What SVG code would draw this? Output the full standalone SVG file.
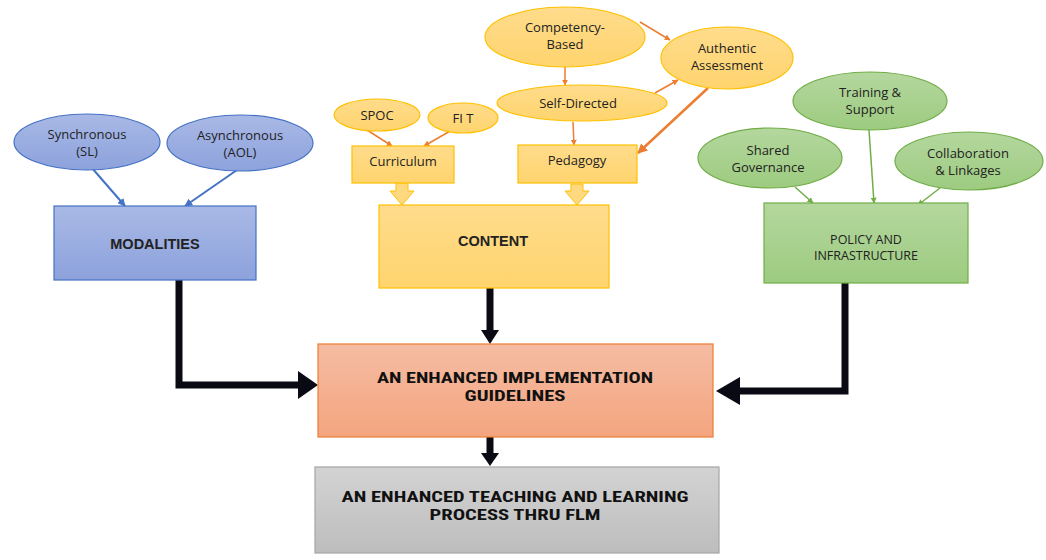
<svg xmlns="http://www.w3.org/2000/svg" width="1046" height="560" viewBox="0 0 1046 560">
<defs>
<linearGradient id="gBlue" x1="0" y1="0" x2="0" y2="1"><stop offset="0" stop-color="#a9b9e6"/><stop offset="1" stop-color="#8da2dc"/></linearGradient>
<linearGradient id="gOr" x1="0" y1="0" x2="0" y2="1"><stop offset="0" stop-color="#ffdc8c"/><stop offset="1" stop-color="#ffd46e"/></linearGradient>
<linearGradient id="gGr" x1="0" y1="0" x2="0" y2="1"><stop offset="0" stop-color="#b4d79e"/><stop offset="1" stop-color="#9dcb80"/></linearGradient>
<linearGradient id="gRed" x1="0" y1="0" x2="0" y2="1"><stop offset="0" stop-color="#f5bca3"/><stop offset="1" stop-color="#f4a57f"/></linearGradient>
<linearGradient id="gGray" x1="0" y1="0" x2="0" y2="1"><stop offset="0" stop-color="#d3d3d3"/><stop offset="1" stop-color="#bdbdbd"/></linearGradient>
<marker id="aBlue" viewBox="0 0 10 10" refX="9" refY="5" markerWidth="4" markerHeight="4" orient="auto"><path d="M0,0 L10,5 L0,10 z" fill="#4472c4"/></marker>
<marker id="aOr" viewBox="0 0 10 10" refX="9" refY="5" markerWidth="4" markerHeight="4" orient="auto"><path d="M0,0 L10,5 L0,10 z" fill="#ed7d31"/></marker>
<marker id="aGr" viewBox="0 0 10 10" refX="9" refY="5" markerWidth="4" markerHeight="4" orient="auto"><path d="M0,0 L10,5 L0,10 z" fill="#70ad47"/></marker>
</defs>
<style>
.t{font-family:"Open Sans","Liberation Sans",sans-serif;font-size:13px;fill:#222;text-anchor:middle}
.p{font-family:"Open Sans","Liberation Sans",sans-serif;font-size:12.5px;fill:#222;text-anchor:middle}
.b{font-family:"Liberation Sans",Arial,sans-serif;font-size:14.5px;font-weight:bold;fill:#222;text-anchor:middle}
.c{font-family:"Roboto Condensed","Liberation Sans Narrow","Liberation Sans",sans-serif;font-size:15px;font-weight:bold;fill:#111;text-anchor:middle}
.eb{fill:url(#gBlue);stroke:#4472c4;stroke-width:1.2}
.eo{fill:url(#gOr);stroke:#ffc000;stroke-width:1.2}
.eg{fill:url(#gGr);stroke:#70ad47;stroke-width:1.2}
.lb{stroke:#4472c4;stroke-width:2;fill:none;marker-end:url(#aBlue)}
.lo{stroke:#ed7d31;stroke-width:1.5;fill:none;marker-end:url(#aOr)}
.lg{stroke:#70ad47;stroke-width:1.5;fill:none;marker-end:url(#aGr)}
.k{stroke:#0a0a14;stroke-width:7;fill:none}
.kh{fill:#0a0a14}
.ba{fill:#ffd97f;stroke:#ffc000;stroke-width:1}
</style>
<g id="connectors">
<line class="lb" x1="92" y1="168" x2="125" y2="206"/>
<line class="lb" x1="237" y1="170" x2="185" y2="206"/>
<line class="lo" x1="367" y1="130" x2="392" y2="146"/>
<line class="lo" x1="452" y1="130" x2="424" y2="146"/>
<line class="lo" x1="565" y1="67" x2="565" y2="85"/>
<line class="lo" x1="640" y1="22" x2="670" y2="40"/>
<line class="lo" x1="655" y1="93" x2="678" y2="80"/>
<line class="lo" x1="573" y1="122" x2="574" y2="145"/>
<line class="lo" x1="708" y1="88" x2="638" y2="153" style="stroke-width:2.5"/>
<line class="lg" x1="795" y1="187" x2="813" y2="203"/>
<line class="lg" x1="869" y1="130" x2="874" y2="203"/>
<line class="lg" x1="940" y1="188" x2="918" y2="205"/>
<path class="ba" d="M396,183 H408 V191 H414 L402,205 L390,191 H396 Z"/>
<path class="ba" d="M571,184 H583 V191 H589 L577,205 L565,191 H571 Z"/>
<path class="k" d="M179,280 V385 H300"/>
<polygon class="kh" points="298,371 318,385 298,399"/>
<path class="k" d="M490,288 V332"/>
<polygon class="kh" points="481,330 499,330 490,344"/>
<path class="k" d="M845,283 V391 H738"/>
<polygon class="kh" points="740,377 716,391 740,405"/>
<path class="k" d="M490,437 V455"/>
<polygon class="kh" points="481,453 499,453 490,466"/>
</g>
<g id="n-sync"><ellipse class="eb" cx="87" cy="142" rx="73" ry="28"/><text class="t" x="87" y="139">Synchronous</text><text class="t" x="87" y="156">(SL)</text></g>
<g id="n-async"><ellipse class="eb" cx="240" cy="143" rx="73" ry="28"/><text class="t" x="240" y="140">Asynchronous</text><text class="t" x="240" y="157">(AOL)</text></g>
<g id="n-modalities"><rect x="54" y="206" width="202" height="74" fill="url(#gBlue)" stroke="#4472c4" stroke-width="1.2"/><text class="b" x="155" y="249">MODALITIES</text></g>
<g id="n-spoc"><ellipse class="eo" cx="377" cy="115" rx="43" ry="16"/><text class="t" x="377" y="120">SPOC</text></g>
<g id="n-fit"><ellipse class="eo" cx="463" cy="118" rx="35" ry="15"/><text class="t" x="463" y="123">FI T</text></g>
<g id="n-competency"><ellipse class="eo" cx="565" cy="37" rx="80" ry="30"/><text class="t" x="565" y="32">Competency-</text><text class="t" x="565" y="49">Based</text></g>
<g id="n-self"><ellipse class="eo" cx="582" cy="103" rx="85" ry="18"/><text class="t" x="578" y="108">Self-Directed</text></g>
<g id="n-authentic"><ellipse class="eo" cx="727" cy="58" rx="66" ry="31"/><text class="t" x="727" y="53">Authentic</text><text class="t" x="727" y="70">Assessment</text></g>
<g id="n-curriculum"><rect x="352" y="146" width="102" height="37" fill="url(#gOr)" stroke="#ffc000" stroke-width="1.2"/><text class="t" x="403" y="166">Curriculum</text></g>
<g id="n-pedagogy"><rect x="518" y="145" width="119" height="38" fill="url(#gOr)" stroke="#ffc000" stroke-width="1.2"/><text class="t" x="577" y="165">Pedagogy</text></g>
<g id="n-content"><rect x="379" y="205" width="230" height="83" fill="url(#gOr)" stroke="#ffc000" stroke-width="1.2"/><text class="b" x="493" y="246">CONTENT</text></g>
<g id="n-training"><ellipse class="eg" cx="870" cy="101" rx="77" ry="29"/><text class="t" x="870" y="97">Training &amp;</text><text class="t" x="870" y="114">Support</text></g>
<g id="n-shared"><ellipse class="eg" cx="770" cy="158" rx="72" ry="30"/><text class="t" x="768" y="155">Shared</text><text class="t" x="768" y="172">Governance</text></g>
<g id="n-collab"><ellipse class="eg" cx="969" cy="161" rx="74" ry="29"/><text class="t" x="968" y="158">Collaboration</text><text class="t" x="968" y="175">&amp; Linkages</text></g>
<g id="n-policy"><rect x="764" y="203" width="204" height="80" fill="url(#gGr)" stroke="#70ad47" stroke-width="1.2"/><text class="p" x="866" y="244">POLICY AND</text><text class="p" x="866" y="260">INFRASTRUCTURE</text></g>
<g id="n-impl"><rect x="318" y="344" width="395" height="93" fill="url(#gRed)" stroke="#ed7d31" stroke-width="1.2"/><text class="c" x="515" y="383" textLength="276" lengthAdjust="spacingAndGlyphs">AN ENHANCED IMPLEMENTATION</text><text class="c" x="515" y="401" textLength="101" lengthAdjust="spacingAndGlyphs">GUIDELINES</text></g>
<g id="n-tl"><rect x="315" y="467" width="404" height="86" fill="url(#gGray)" stroke="#a5a5a5" stroke-width="1.2"/><text class="c" x="515" y="502" textLength="347" lengthAdjust="spacingAndGlyphs">AN ENHANCED TEACHING AND LEARNING</text><text class="c" x="515" y="520" textLength="171" lengthAdjust="spacingAndGlyphs">PROCESS THRU FLM</text></g>
</svg>
